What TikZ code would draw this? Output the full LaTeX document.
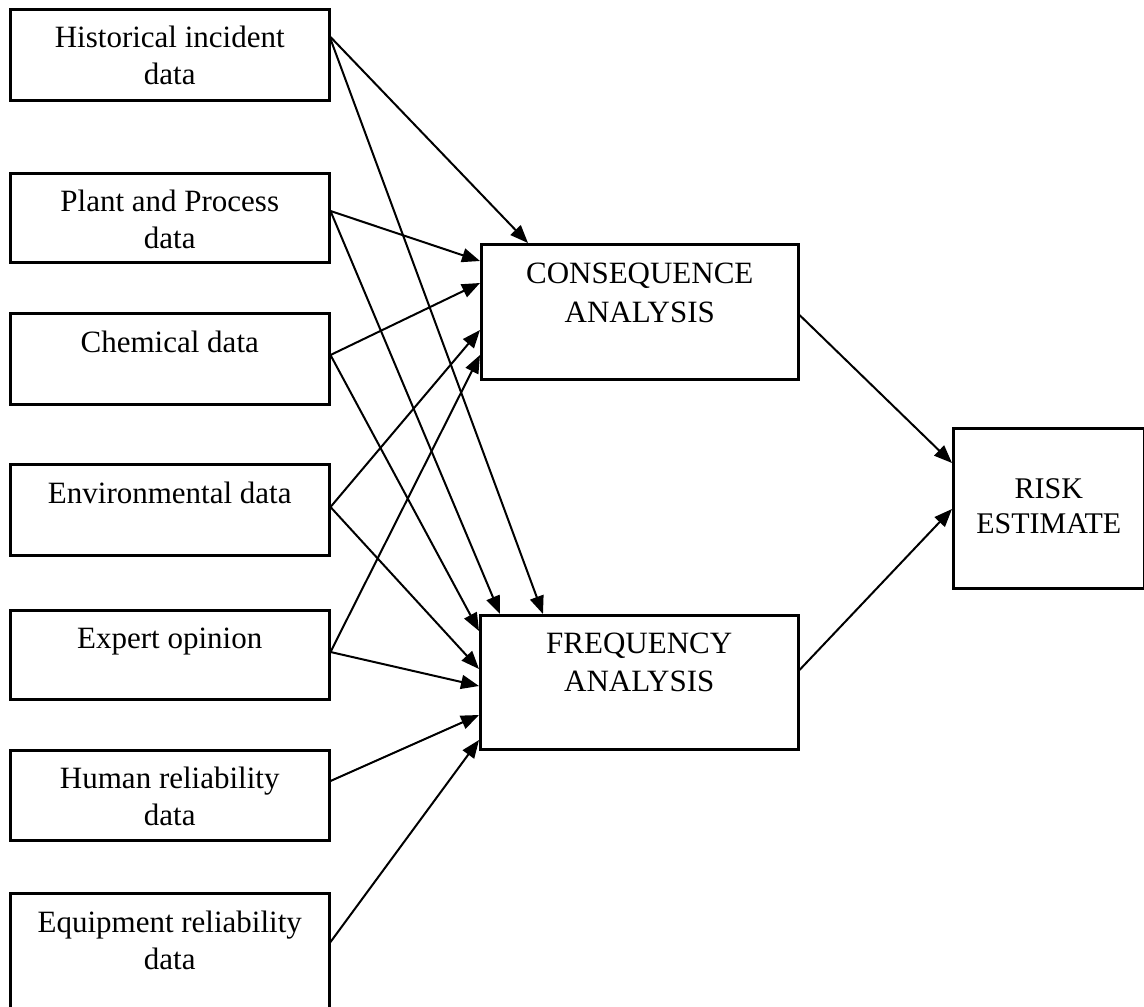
\documentclass[tikz,border=0pt]{standalone}
\usepackage{fontspec}
\setmainfont{Liberation Serif}
\usetikzlibrary{arrows.meta,calc}
\begin{document}
\begin{tikzpicture}[x=1pt,y=-1pt,
  box/.style={draw, line width=2.5pt, inner sep=0pt, anchor=north west},
  lbl/.style={inner sep=0pt, anchor=north, align=center, font=\fontsize{31}{37}\selectfont},
  conn/.style={line width=2pt, -{Triangle[length=18pt,width=14pt]}}]
\useasboundingbox (0,0) rectangle (1144,1007);

% left input boxes
\node[box, minimum width=319pt, minimum height=91pt] (hist) at (9,8) {};
\node[box, minimum width=319pt, minimum height=89pt] (plant) at (9,172) {};
\node[box, minimum width=319pt, minimum height=91pt] (chem) at (9,312) {};
\node[box, minimum width=319pt, minimum height=91pt] (env) at (9,463) {};
\node[box, minimum width=319pt, minimum height=89pt] (expert) at (9,609) {};
\node[box, minimum width=319pt, minimum height=90pt] (human) at (9,749) {};
\node[box, minimum width=319pt, minimum height=120pt] (equip) at (9,892) {};

\node[lbl] (thist) at ($(hist.north)+(0,18)$) {Historical incident\\data};
\node[lbl] (tplant) at ($(plant.north)+(0,18)$) {Plant and Process\\data};
\node[lbl] (tchem) at ($(chem.north)+(0,19)$) {Chemical data};
\node[lbl] (tenv) at ($(env.north)+(0,19)$) {Environmental data};
\node[lbl] (texpert) at ($(expert.north)+(0,19)$) {Expert opinion};
\node[lbl] (thuman) at ($(human.north)+(0,18)$) {Human reliability\\data};
\node[lbl] (tequip) at ($(equip.north)+(0,19)$) {Equipment reliability\\data};

% analysis boxes
\node[box, minimum width=317pt, minimum height=135pt] (cons) at (480,243) {};
\node[box, minimum width=318pt, minimum height=134pt] (freq) at (479,614) {};
\node[box, minimum width=191pt, minimum height=160pt] (risk) at (952,427) {};

\node[lbl, font=\fontsize{31}{39}\selectfont] (tcons) at ($(cons.north)+(0,19.5)$) {CONSEQUENCE\\ANALYSIS};
\node[lbl, font=\fontsize{31}{38}\selectfont] (tfreq) at ($(freq.north)+(0,18.5)$) {FREQUENCY\\ANALYSIS};
\node[lbl, font=\fontsize{30}{35}\selectfont] (trisk) at ($(risk.north)+(0,51)$) {RISK\\ESTIMATE};

% connectors to consequence analysis
\draw[conn] ($(hist.north east)+(0,29)$) -- ($(cons.north west)+(48,0)$);
\draw[conn] ($(plant.north east)+(0,39)$) -- ($(cons.north west)+(0,18)$);
\draw[conn] ($(chem.north east)+(0,43)$) -- ($(cons.north west)+(0,40)$);
\draw[conn] ($(env.north east)+(0,44)$) -- ($(cons.north west)+(0,87)$);
\draw[conn] ($(expert.north east)+(0,43)$) -- ($(cons.north west)+(0,112)$);

% connectors to frequency analysis
\draw[conn] ($(hist.north east)+(0,31)$) -- ($(freq.north west)+(64,0)$);
\draw[conn] ($(plant.north east)+(0,39)$) -- ($(freq.north west)+(21,0)$);
\draw[conn] ($(chem.north east)+(0,43)$) -- ($(freq.north west)+(0,17)$);
\draw[conn] ($(env.north east)+(0,44)$) -- ($(freq.north west)+(0,55)$);
\draw[conn] ($(expert.north east)+(0,43)$) -- ($(freq.north west)+(0,72)$);
\draw[conn] ($(human.north east)+(0,32)$) -- ($(freq.north west)+(0,101)$);
\draw[conn] ($(equip.north east)+(0,50)$) -- ($(freq.north west)+(0,126)$);

% connectors to risk estimate
\draw[conn] ($(cons.north east)+(0,72)$) -- ($(risk.north west)+(0,36)$);
\draw[conn] ($(freq.north east)+(0,56)$) -- ($(risk.north west)+(0,82)$);
\end{tikzpicture}
\end{document}
